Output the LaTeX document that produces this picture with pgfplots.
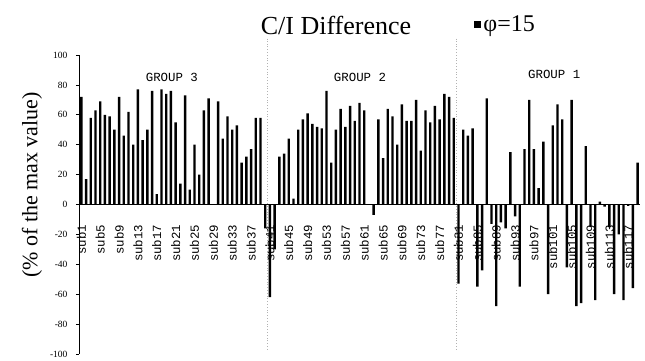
\documentclass[border=0pt]{standalone}
\usepackage{fontspec}
\setmainfont{Liberation Serif}
\newfontfamily\mono{Liberation Mono}
\usepackage{pgfplots}
\pgfplotsset{compat=1.18}
\pgfplotstableread{
x y
1 72
2 17
3 58
4 63
5 69
6 60
7 59
8 50
9 72
10 46
11 62
12 40
13 77
14 43
15 50
16 76
17 7
18 77
19 74
20 76
21 55
22 14
23 73
24 10
25 40
26 20
27 63
28 71
30 69
31 44
32 59
33 50
34 53
35 28
36 32
37 37
38 58
39 58
40 -16
41 -62
42 -30
43 32
44 34
45 44
46 4
47 50
48 57
49 61
50 54
51 52
52 51
53 76
54 28
55 50
56 64
57 52
58 66
59 56
60 68
61 63
63 -7
64 57
65 31
66 64
67 59
68 40
69 67
70 56
71 56
72 70
73 36
74 63
75 55
76 66
77 57
78 74
79 72
80 58
81 -53
82 50
83 46
84 51
85 -55
86 -44
87 71
88 -13
89 -68
90 -12
91 -16
92 35
93 -8
94 -55
95 37
96 70
97 37
98 11
99 42
100 -60
101 53
102 67
103 57
104 -42
105 70
106 -68
107 -66
108 39
109 -15
110 -64
111 2
112 -1.5
113 -15
114 -60
115 -20
116 -64
117 -1
118 -56
119 28
}\datatable
\begin{document}
\begin{tikzpicture}
\begin{axis}[
  at={(79pt,7pt)}, anchor=south west,
  scale only axis, width=561pt, height=299pt,
  xmin=0.5, xmax=119.5, ymin=-100, ymax=100,
  clip=false,
  axis x line=middle, axis y line=left,
  axis line style={-, black, line width=0.8pt},
  ytick={-100,-80,...,100},
  xtick={1,5,...,117},
  xticklabels={sub1,sub5,sub9,sub13,sub17,sub21,sub25,sub29,sub33,sub37,sub41,sub45,sub49,sub53,sub57,sub61,sub65,sub69,sub73,sub77,sub81,sub85,sub89,sub93,sub97,sub101,sub105,sub109,sub113,sub117},
  x tick style={draw=none},
  y tick style={black, line width=0.6pt},
  tick align=outside, major tick length=3pt,
  /pgf/number format/assume math mode=true,
  yticklabel style={font=\fontsize{9.5}{10}\selectfont, anchor=east, xshift=-5pt},
  xticklabel style={font=\mono\fontsize{12.4}{13}\selectfont, yshift=-17pt, rotate=90, anchor=east, inner sep=0pt},
  legend style={draw=none, fill=none, at={(axis description cs:0.7045,1.102)}, anchor=west, font=\fontsize{24}{26}\selectfont, inner sep=0pt, nodes={inner xsep=2.5pt}},
  legend image code/.code={\fill[black] (0pt,-3.2pt) rectangle (6.5pt,3.2pt);},
]
\addplot[ybar, bar width=2.4pt, fill=black, draw=none] table[x=x, y=y] {\datatable};
\addlegendentry{φ=15}
\draw[gray!60, dotted, line width=0.8pt] (axis cs:40.5,-97) -- (axis cs:40.5,111);
\draw[gray!60, dotted, line width=0.8pt] (axis cs:80.5,-97) -- (axis cs:80.5,111);
\node[font=\mono\fontsize{12.4}{13}\selectfont] at (axis cs:20.2,85.3) {GROUP 3};
\node[font=\mono\fontsize{12.4}{13}\selectfont] at (axis cs:60.1,85.3) {GROUP 2};
\node[font=\mono\fontsize{12.4}{13}\selectfont] at (axis cs:101.3,86.7) {GROUP 1};
\end{axis}
\node[font=\fontsize{26}{28}\selectfont] at (336pt,336pt) {C/I Difference};
\node[font=\fontsize{22}{24}\selectfont, rotate=90] at (32pt,176pt) {(\% of the max value)};
\pgfresetboundingbox
\path (0pt,0pt) rectangle (645pt,361pt);
\end{tikzpicture}
\end{document}
